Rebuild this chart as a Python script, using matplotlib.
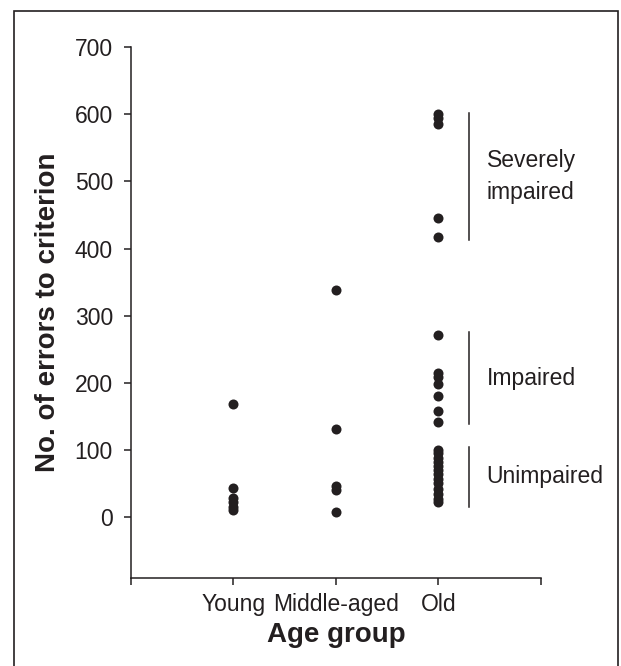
import matplotlib.pyplot as plt
from matplotlib.patches import Rectangle

plt.rcParams['font.family'] = ['Liberation Sans', 'DejaVu Sans']

# Data
groups = ['Young', 'Middle-aged', 'Old']
young = [169, 43, 29, 22, 15, 10]
middle = [339, 131, 46, 41, 7]
old = [600, 595, 585, 445, 417,
       271, 215, 208, 198, 180, 158, 142,
       100, 95, 88, 82, 76, 70, 64, 57, 50, 42, 34, 27, 22]
yticks = [0, 100, 200, 300, 400, 500, 600, 700]

# Performance bands drawn to the right of the Old group
bands = ['Severely\nimpaired', 'Impaired', 'Unimpaired']
band_low = [413, 138, 15]
band_high = [602, 275, 105]

ink = '#231f20'

fig = plt.figure(figsize=(6.21, 6.66), dpi=100)
ax = fig.add_axes([0.211, 0.132, 0.66, 0.797])

for i, vals in enumerate([young, middle, old]):
    ax.scatter([i + 1] * len(vals), vals, s=52, color=ink, zorder=3, linewidths=0)

for lab, lo, hi in zip(bands, band_low, band_high):
    ax.plot([3.3, 3.3], [lo, hi], color=ink, lw=1.1)
    ax.text(3.47, (lo + hi) / 2, lab, ha='left', va='center', fontsize=16.5, color=ink,
            linespacing=1.45)

ax.set_xlim(0, 4)
ax.set_ylim(-91, 700)
ax.set_xticks([0, 1, 2, 3, 4])
ax.set_xticklabels(['', 'Young', 'Middle-aged', 'Old', ''])
ax.set_yticks(yticks)
ax.tick_params(axis='both', labelsize=16.5, colors=ink, width=1.1, length=5)
ax.tick_params(axis='x', pad=6)
ax.tick_params(axis='y', pad=8)

for side in ['top', 'right']:
    ax.spines[side].set_visible(False)
for side in ['left', 'bottom']:
    ax.spines[side].set_color(ink)
    ax.spines[side].set_linewidth(1.1)

ax.set_xlabel('Age group', fontsize=20, fontweight='bold', color=ink, labelpad=4)
ax.set_ylabel('No. of errors to criterion', fontsize=20, fontweight='bold', color=ink,
              labelpad=10)

# frame around the whole figure
fig.patches.append(Rectangle((14 / 621, -0.05), 604 / 621, 1 - 11 / 666 + 0.05,
                             transform=fig.transFigure, fill=False,
                             edgecolor=ink, lw=1.2))

plt.savefig('out.png', dpi=100)
